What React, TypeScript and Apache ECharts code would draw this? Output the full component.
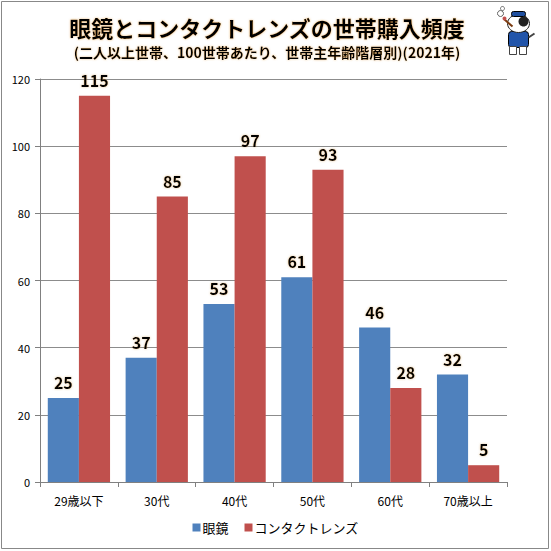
import React, { useEffect, useRef } from "react";
import * as echarts from "echarts";

const categories = ["29歳以下", "30代", "40代", "50代", "60代", "70歳以上"];
const glasses = [25, 37, 53, 61, 46, 32];
const contacts = [115, 85, 97, 93, 28, 5];
const seriesNames = ["眼鏡", "コンタクトレンズ"];
const titleText = "眼鏡とコンタクトレンズの世帯購入頻度";
const subtitleText = "(二人以上世帯、100世帯あたり、世帯主年齢階層別)(2021年)";

const FONT = "'Noto Sans CJK JP', 'Noto Sans', sans-serif";

export default function App() {
  const ref = useRef<HTMLDivElement>(null);
  useEffect(() => {
    document.body.style.margin = "0";
    const chart = echarts.init(ref.current!, null, { renderer: "svg" });
    const labelCfg = {
      show: true,
      position: "top",
      distance: 8,
      fontSize: 16,
      fontWeight: "bold",
      color: "#000",
      fontFamily: FONT,
      textShadowColor: "rgba(200,140,60,0.5)",
      textShadowBlur: 2,
    };
    chart.setOption({
      animation: false,
      backgroundColor: "#fff",
      textStyle: { fontFamily: FONT },
      title: [
        {
          text: titleText,
          left: 262,
          top: 11,
          textAlign: "center",
          textStyle: {
            fontSize: 22,
            fontWeight: "bold",
            color: "#000",
            fontFamily: FONT,
            textShadowColor: "rgba(220,140,40,0.6)",
            textShadowBlur: 2,
          },
        },
        {
          text: subtitleText,
          left: 262,
          top: 40,
          textAlign: "center",
          textStyle: {
            fontSize: 14,
            fontWeight: "bold",
            color: "#000",
            fontFamily: FONT,
            textShadowColor: "rgba(220,140,40,0.5)",
            textShadowBlur: 2,
          },
        },
      ],
      legend: {
        data: seriesNames,
        bottom: 12,
        left: "center",
        itemWidth: 8,
        itemHeight: 8,
        itemGap: 16,
        icon: "rect",
        textStyle: { fontSize: 13, color: "#000", fontFamily: FONT, padding: [0, 0, 0, -3] },
      },
      grid: { left: 40, right: 44, top: 79, bottom: 69, containLabel: false },
      xAxis: {
        type: "category",
        data: categories,
        axisLine: { lineStyle: { color: "#808080", width: 1 } },
        axisTick: { show: true, alignWithLabel: false, length: 5, lineStyle: { color: "#808080" } },
        axisLabel: { fontSize: 12, color: "#000", margin: 12, fontFamily: FONT },
      },
      yAxis: {
        type: "value",
        min: 0,
        max: 120,
        interval: 20,
        axisLine: { show: true, lineStyle: { color: "#808080", width: 1 } },
        axisTick: { show: true, length: 5, lineStyle: { color: "#808080" } },
        axisLabel: { fontSize: 11, color: "#000", margin: 10, fontFamily: FONT },
        splitLine: { lineStyle: { color: "#8c8c8c", width: 1 } },
      },
      series: [
        {
          name: seriesNames[0],
          type: "bar",
          data: glasses,
          itemStyle: { color: "#4F81BD" },
          barGap: "0%",
          barCategoryGap: "20%",
          label: labelCfg,
        },
        {
          name: seriesNames[1],
          type: "bar",
          data: contacts,
          itemStyle: { color: "#C0504D" },
          barGap: "0%",
          barCategoryGap: "20%",
          label: labelCfg,
        },
      ],
      graphic: [
        {
          type: "rect",
          shape: { x: 1.5, y: 1.5, width: 547, height: 547 },
          style: { fill: "none", stroke: "#888", lineWidth: 1 },
          silent: true,
        },
        {
          type: "group",
          left: 497,
          top: 6,
          children: [
            { type: "circle", shape: { cx: 4, cy: 6, r: 3 }, style: { fill: "#fff", stroke: "#666", lineWidth: 1 } },
            { type: "circle", shape: { cx: 6, cy: 1, r: 2 }, style: { fill: "#fff", stroke: "#666", lineWidth: 1 } },
            { type: "rect", shape: { x: 12, y: 24, width: 20, height: 16, r: 3 }, style: { fill: "#2255aa", stroke: "#000", lineWidth: 1 } },
            { type: "rect", shape: { x: 13, y: 39, width: 7, height: 8 }, style: { fill: "#fff", stroke: "#444", lineWidth: 1 } },
            { type: "rect", shape: { x: 23, y: 39, width: 7, height: 8 }, style: { fill: "#fff", stroke: "#444", lineWidth: 1 } },
            { type: "line", shape: { x1: 32, y1: 30, x2: 38, y2: 26 }, style: { stroke: "#444", lineWidth: 2 } },
            { type: "ellipse", shape: { cx: 22, cy: 16, rx: 11, ry: 9 }, style: { fill: "#fff", stroke: "#222", lineWidth: 1 } },
            { type: "ellipse", shape: { cx: 27, cy: 14, rx: 5, ry: 5 }, style: { fill: "#222" } },
            { type: "rect", shape: { x: 15, y: 4, width: 14, height: 5, r: 2 }, style: { fill: "#1f4f9f", stroke: "#000", lineWidth: 1 } },
            { type: "line", shape: { x1: 8, y1: 12, x2: 16, y2: 19 }, style: { stroke: "#7a3b10", lineWidth: 2 } },
            { type: "circle", shape: { cx: 8, cy: 11, r: 2 }, style: { fill: "#c0504d" } },
          ],
        },
      ],
    });
    return () => chart.dispose();
  }, []);
  return <div ref={ref} style={{ width: 551, height: 551 }} />;
}
